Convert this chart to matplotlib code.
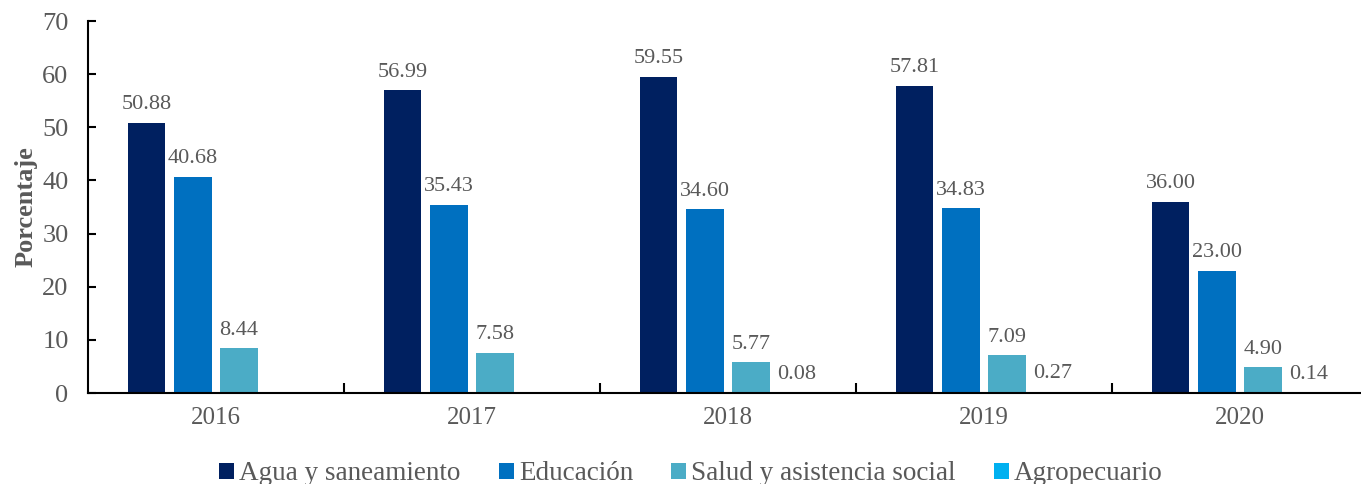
import numpy as np
import matplotlib.pyplot as plt

plt.rcParams['font.family'] = ['Liberation Serif', 'DejaVu Serif']

years = ['2016', '2017', '2018', '2019', '2020']
series = ['Agua y saneamiento', 'Educación', 'Salud y asistencia social', 'Agropecuario']
agua = [50.88, 56.99, 59.55, 57.81, 36.00]
educacion = [40.68, 35.43, 34.60, 34.83, 23.00]
salud = [8.44, 7.58, 5.77, 7.09, 4.90]
agro = [None, None, 0.08, 0.27, 0.14]
colors = ['#002060', '#0070C0', '#4BACC6', '#00B0F0']

gray = '#595959'
fig = plt.figure(figsize=(13.61, 4.84), dpi=100)
ax = fig.add_axes([88 / 1361, 91 / 484, 1280 / 1361, 372 / 484])

x = np.arange(len(years))
pitch = 0.18
width = 0.145
for i, (vals, name, c) in enumerate(zip([agua, educacion, salud, agro], series, colors)):
    pos = x + (i - 1.5) * pitch
    h = [v if v is not None else 0 for v in vals]
    ax.bar(pos, h, width, color=c, label=name)
    for p, v in zip(pos, vals):
        if v is None:
            continue
        ax.annotate(f'{v:.2f}', (p, v), xytext=(0, 6), textcoords='offset points',
                    ha='center', va='bottom', fontsize=16, color=gray)

ax.set_xlim(-0.5, len(years) - 0.5)
ax.set_ylim(0, 70)
ax.set_yticks(range(0, 71, 10))
ax.set_xticks(x)
ax.set_xticklabels(years)
ax.set_xticks(np.arange(0.5, len(years) - 1, 1), minor=True)
ax.tick_params(axis='x', which='major', length=0, pad=10, labelsize=18, labelcolor=gray)
ax.tick_params(axis='x', which='minor', direction='in', length=7, width=1.5)
ax.tick_params(axis='y', direction='in', length=6, width=1.5, pad=14, labelsize=19, labelcolor=gray)

for s in ['top', 'right']:
    ax.spines[s].set_visible(False)
ax.spines['left'].set_linewidth(1.5)
ax.spines['bottom'].set_linewidth(1.5)

ax.set_ylabel('Porcentaje', fontsize=19, fontweight='bold', color=gray, labelpad=3)

ax.legend(loc='center', bbox_to_anchor=(691 / 1361, 10 / 484), bbox_transform=fig.transFigure,
          ncol=4, frameon=False, fontsize=19.5, labelcolor=gray, handlelength=0.55, handleheight=0.55,
          handletextpad=0.2, columnspacing=1.4)

fig.savefig('out.png', dpi=100)
